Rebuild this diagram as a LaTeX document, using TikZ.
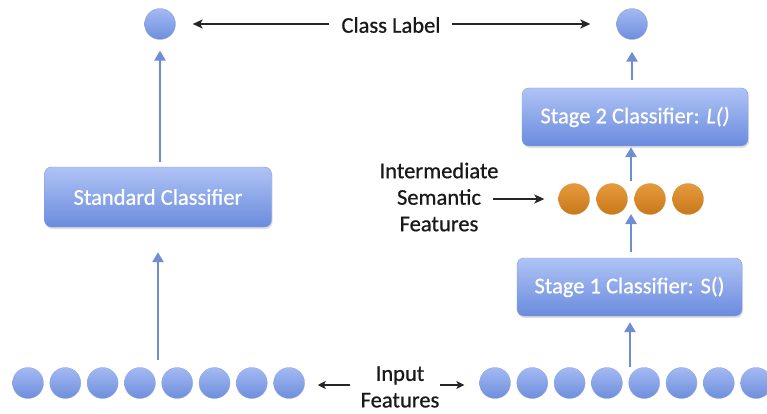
\documentclass[tikz,border=0pt]{standalone}
\usepackage{fontspec}
\setmainfont{Carlito}
\newfontfamily\heavyfont[FakeBold=0.7]{Carlito}
\usetikzlibrary{arrows.meta,shadows}
\definecolor{ctop}{HTML}{A3B9F2}
\definecolor{cbot}{HTML}{6E8EDC}
\definecolor{btop}{HTML}{AFC3F5}
\definecolor{bbot}{HTML}{6A8BDD}
\definecolor{otop}{HTML}{E69A3A}
\definecolor{obot}{HTML}{C8781C}
\definecolor{arrblue}{HTML}{6F8DD3}
\tikzset{
  bnode/.style={circle, minimum size=31pt, inner sep=0pt, top color=ctop, bottom color=cbot, draw=cbot!80!white, line width=0.3pt},
  onode/.style={circle, minimum size=31pt, inner sep=0pt, top color=otop, bottom color=obot, draw=obot!80!white, line width=0.3pt},
  clsbox/.style={rounded corners=7pt, minimum width=226pt, minimum height=58pt, inner sep=0pt,
    top color=btop, bottom color=bbot, draw=bbot!85!white, line width=0.4pt, text=white,
    font=\heavyfont\fontsize{22.5}{26}\selectfont,
    drop shadow={opacity=0.25, shadow xshift=1pt, shadow yshift=-2pt}},
  blarrow/.style={-{Triangle[length=10pt,width=11pt]}, line width=2.8pt, draw=arrblue, fill=arrblue},
  karrow/.style={-{Stealth[length=10pt,width=9pt,inset=2.5pt]}, line width=1.6pt, black!85},
  sarrow/.style={-{Stealth[length=8pt,width=8pt,inset=2pt]}, line width=1.4pt, black!85},
  lbl/.style={inner sep=0pt, font=\heavyfont\fontsize{22.5}{26.5}\selectfont, align=center, text=black!90}
}
\begin{document}
\begin{tikzpicture}[x=1pt,y=-1pt]
\useasboundingbox (0,0) rectangle (767,414);

% top class label
\node[bnode] (top1) at (160,24) {};
\node[bnode] (top2) at (632,24) {};
\node[lbl] (cl) at (391,25) {Class Label};
\draw[karrow, shorten <=12pt, shorten >=17pt] (cl.west |- top1) -- (top1.east);
\draw[karrow, shorten <=11pt, shorten >=26pt] (cl.east |- top2) -- (top2.west);

% left column
\node[clsbox, minimum width=227pt, minimum height=60pt] (std) at (158,197) {Standard Classifier};
\draw[blarrow, shorten <=5pt, shorten >=11pt] (top1 |- std.north) -- (top1.south);

% left input circles
\foreach \i in {0,...,7} {
  \node[bnode] (inl\i) at ({28+37.3*\i},383) {};
}
\coordinate (la) at (158,360);
\draw[blarrow, shorten >=25pt] (la) -- (la |- std.south);

% right column
\node[clsbox] (s2) at (635,117) {Stage 2 Classifier: \textit{L()}};
\draw[blarrow, shorten <=8pt, shorten >=12pt] (top2 |- s2.north) -- (top2.south);

\foreach \x [count=\j] in {574,612,650,688} {
  \node[onode] (ofeat\j) at (\x,199) {};
}
\coordinate (om) at (631,181);
\coordinate (omb) at (631,214);
\draw[blarrow, shorten >=1pt] (om) -- (om |- s2.south);

\node[clsbox, minimum width=225pt] (s1) at (629.5,287) {Stage 1 Classifier: S()};
\draw[blarrow, shorten <=6pt] (om |- s1.north) -- (omb);

\node[lbl] (imf) at (439,197) {Intermediate\\Semantic\\Features};
\coordinate (sa) at (493,199);
\draw[karrow, shorten >=14pt] (sa) -- (ofeat1.west);

% right input circles
\foreach \i in {0,...,7} {
  \node[bnode] (inr\i) at ({495+37.3*\i},383) {};
}
\coordinate (ra) at (630,367);
\draw[blarrow, shorten >=6pt] (ra) -- (ra |- s1.south);

% input features label
\node[lbl] (inf) at (400,387) {Input\\Features};
\coordinate (infl) at (350,385);
\coordinate (infr) at (440,385);
\draw[sarrow, shorten >=13pt] (infl) -- (inl7.east |- infl);
\draw[sarrow, shorten >=15pt] (infr) -- (inr0.west |- infr);
\end{tikzpicture}
\end{document}
